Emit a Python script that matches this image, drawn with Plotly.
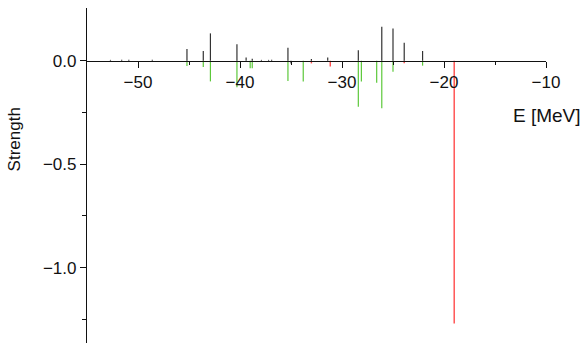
import plotly.graph_objects as go

# Transition strengths vs. excitation energy (MeV)
black_E = [-52.7, -51.6, -50.9, -48.6, -45.2, -43.6, -42.9, -40.3, -39.4, -38.8,
           -37.9, -37.2, -36.9, -35.3, -35.0, -33.0, -31.4, -28.4, -26.1, -25.0,
           -23.9, -22.1]
black_S = [0.004, 0.004, 0.004, 0.004, 0.057, 0.047, 0.132, 0.080, 0.016, 0.010,
           0.004, 0.004, 0.004, 0.063, -0.013, 0.008, 0.016, 0.050, 0.164, 0.156,
           0.087, 0.047]

green_E = [-45.2, -43.6, -42.9, -40.3, -39.0, -38.8, -35.3, -33.8, -28.4, -28.1,
           -26.6, -26.1, -25.0, -22.1]
green_S = [-0.026, -0.030, -0.100, -0.128, -0.037, -0.037, -0.098, -0.100, -0.222, -0.100,
           -0.106, -0.230, -0.053, -0.024]

red_E = [-33.0, -31.15, -23.9, -19.0]
red_S = [-0.013, -0.028, -0.012, -1.27]

x_ticks = [-50, -40, -30, -20, -10]
y_ticks = [0.0, -0.5, -1.0]


def stems(E, S):
    xs, ys = [], []
    for e, s in zip(E, S):
        xs += [e, e, None]
        ys += [0, s, None]
    return xs, ys


fig = go.Figure()
for E, S, col, w in [(green_E, green_S, "#5cc83a", 1.2),
                     (red_E, red_S, "#ff4a4a", 1.4),
                     (black_E, black_S, "#333333", 1.2)]:
    xs, ys = stems(E, S)
    fig.add_trace(go.Scatter(x=xs, y=ys, mode="lines",
                             line=dict(color=col, width=w),
                             hoverinfo="skip", showlegend=False))

ymin, ymax = -1.3638, 0.2546
font = dict(family="Liberation Sans, Arial, sans-serif", size=17, color="#111111")

fig.update_layout(
    width=584, height=343,
    margin=dict(l=87, r=38, t=8, b=0),
    paper_bgcolor="white", plot_bgcolor="white",
    font=font,
    xaxis=dict(
        range=[-55, -10], anchor="free", position=(0 - ymin) / (ymax - ymin),
        showgrid=False, zeroline=False,
        showline=True, linecolor="#111111", linewidth=1.2,
        tickmode="array", tickvals=x_ticks,
        ticks="outside", ticklen=6, tickcolor="#111111", tickwidth=1.2,
        minor=dict(tickmode="array", tickvals=[-45, -35, -25, -15],
                   ticks="outside", ticklen=3, tickcolor="#111111", tickwidth=1.2),
        tickfont=font,
    ),
    yaxis=dict(
        range=[ymin, ymax],
        showgrid=False, zeroline=False,
        showline=True, linecolor="#111111", linewidth=1.2,
        tickmode="array", tickvals=y_ticks, ticktext=["0.0", "\u22120.5", "\u22121.0"],
        ticks="outside", ticklen=6, tickcolor="#111111", tickwidth=1.2,
        minor=dict(tickmode="array", tickvals=[-0.25, -0.75, -1.25],
                   ticks="outside", ticklen=4, tickcolor="#111111", tickwidth=1.2),
        tickfont=font,
    ),
    annotations=[
        dict(text="E [MeV]", xref="paper", yref="paper",
             x=1.003, y=0.678, xanchor="center", yanchor="middle",
             showarrow=False, font=dict(family=font["family"], size=19, color="#111111")),
        dict(text="Strength", xref="paper", yref="paper",
             x=-0.156, y=0.609, xanchor="center", yanchor="middle", textangle=-90,
             showarrow=False, font=dict(family=font["family"], size=17, color="#111111")),
    ],
)

fig.write_html("out.html")
